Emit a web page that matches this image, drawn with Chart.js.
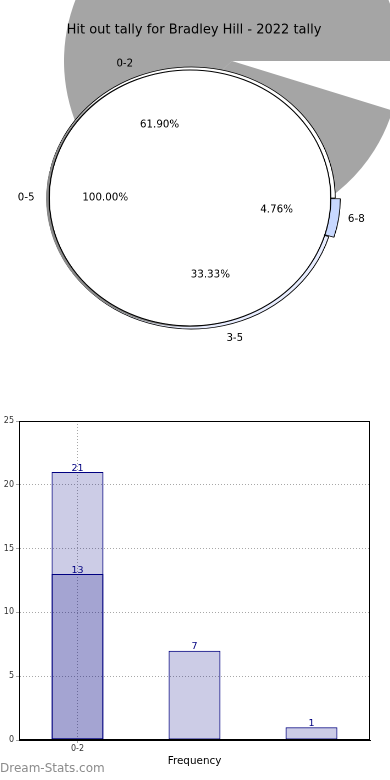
<!DOCTYPE html>
<html>
<head>
<meta charset="utf-8">
<script src="https://cdn.jsdelivr.net/npm/chart.js@4.4.1/dist/chart.umd.min.js"></script>
<style>
  html, body { margin: 0; padding: 0; background: #fff; width: 390px; height: 780px; overflow: hidden; }
  .layer { position: absolute; }
  #pieBack { left: 0; top: 0; }
  .pieWrap { left: 10px; top: 48px; width: 360px; height: 300px; transform: scaleX(1.1); transform-origin: 180px 150px; }
  #bars { left: 0; top: 400px; }
  #mark { position: absolute; left: 0; top: 761px; font: 12px "DejaVu Sans"; color: #8c8c8c; }
</style>
</head>
<body>
<canvas id="pieBack" class="layer" width="390" height="380"></canvas>
<div class="layer pieWrap"><canvas id="pieOuter" width="360" height="300"></canvas></div>
<div class="layer pieWrap"><canvas id="pieShadow" width="360" height="300"></canvas></div>
<div class="layer pieWrap"><canvas id="pieInner" width="360" height="300"></canvas></div>
<canvas id="bars" class="layer" width="390" height="380"></canvas>
<div id="mark">Dream-Stats.com</div>
<script>
const titleText = 'Hit out tally for Bradley Hill - 2022 tally'
const ranges = ['0-2', '3-5', '6-8']
const counts = [13, 7, 1]
const allRange = ['0-5']
const allCount = [21]
const barTotals = [21, 7, 1]
const barSub = [13, null, null]
const yTicks = [0, 5, 10, 15, 20, 25]
const xTitle = 'Frequency'

// pies go clockwise from east in Chart.js, matplotlib goes the other way
const pieNames = [...ranges].reverse()
const pieValues = [...counts].reverse()

const SX = 1.1 // horizontal stretch of the pie wrappers
const GREY = '#a5a5a5'
const BAR_FILL = 'rgba(0, 0, 128, 0.2)'

function drawText(ctx, text, x, y, align) {
  ctx.save()
  ctx.translate(x, y)
  ctx.scale(1 / SX, 1)
  ctx.textAlign = align
  ctx.fillText(text, 0, 0)
  ctx.restore()
}

function labelArcs(ctx, meta, names, values) {
  const total = values.reduce((a, b) => a + b, 0)
  meta.data.forEach((arc, i) => {
    const mid = (arc.startAngle + arc.endAngle) / 2
    const r = arc.outerRadius
    const c = Math.cos(mid), s = Math.sin(mid)
    drawText(ctx, names[i], arc.x + c * r * 1.1, arc.y + s * r * 1.1, c < 0 ? 'right' : 'left')
    drawText(ctx, (values[i] / total * 100).toFixed(2) + '%', arc.x + c * r * 0.6, arc.y + s * r * 0.6, 'center')
  })
}

const titlePlugin = {
  id: 'topTitle',
  afterDraw(chart) {
    const ctx = chart.ctx
    ctx.save()
    ctx.font = '13px "DejaVu Sans"'
    ctx.fillStyle = '#000'
    ctx.textAlign = 'center'
    ctx.textBaseline = 'middle'
    ctx.fillText(titleText, 194, 30)
    ctx.restore()
  },
}

const pieBase = {
  responsive: false,
  animation: false,
  devicePixelRatio: 2,
  events: [],
  plugins: { legend: { display: false }, tooltip: { enabled: false } },
}

// grey shadow pie behind everything
new Chart(document.getElementById('pieBack'), {
  type: 'pie',
  data: {
    labels: pieNames,
    datasets: [{
      data: pieValues,
      backgroundColor: pieNames.map(n => n === '6-8' ? 'rgba(0,0,0,0)' : GREY),
      borderWidth: 0,
      radius: 168,
      rotation: 90,
      clip: false,
    }],
  },
  options: { ...pieBase, layout: { padding: { left: 74, bottom: 258 } } },
  plugins: [titlePlugin],
})

const outerChart = new Chart(document.getElementById('pieOuter'), {
  type: 'pie',
  data: {
    labels: pieNames,
    datasets: [{
      data: pieValues,
      backgroundColor: ['#c8d8ff', '#e8edff', '#ffffff'],
      borderColor: '#000',
      borderWidth: 0.8,
      offset: [11, 0, 0],
      radius: 131,
      rotation: 90,
      clip: false,
    }],
  },
  options: { ...pieBase, layout: { padding: { left: 2 } } },
})

// shadow of the full 0-5 pie, shifted a little left
new Chart(document.getElementById('pieShadow'), {
  type: 'pie',
  data: {
    labels: allRange,
    datasets: [{
      data: allCount,
      backgroundColor: '#8a8a8a',
      borderWidth: 0,
      radius: 128,
      rotation: 90,
      clip: false,
    }],
  },
  options: { ...pieBase, layout: { padding: { right: 5.4, top: 2 } } },
})

// full 0-5 pie: thin black ring as outline + white disk
new Chart(document.getElementById('pieInner'), {
  type: 'pie',
  data: {
    labels: allRange,
    datasets: [
      { data: allCount, backgroundColor: '#000', borderWidth: 0, weight: 1, radius: 128.5, rotation: 90, clip: false },
      { data: allCount, backgroundColor: '#fff', borderWidth: 0, weight: 127, radius: 128.5, rotation: 90, clip: false },
    ],
  },
  options: { ...pieBase, radius: 128.5 },
  plugins: [{
    id: 'pieLabels',
    afterDatasetsDraw(chart) {
      const ctx = chart.ctx
      ctx.save()
      ctx.font = '10.3px "DejaVu Sans"'
      ctx.fillStyle = '#000'
      ctx.textBaseline = 'middle'
      labelArcs(ctx, chart.getDatasetMeta(0), allRange, allCount)
      labelArcs(ctx, outerChart.getDatasetMeta(0), pieNames, pieValues)
      ctx.restore()
    },
  }],
})

const barValues = {
  id: 'barValues',
  afterDatasetsDraw(chart) {
    const ctx = chart.ctx
    ctx.save()
    ctx.font = '9.5px "DejaVu Sans"'
    ctx.fillStyle = '#000080'
    ctx.textAlign = 'center'
    ctx.textBaseline = 'alphabetic'
    chart.data.datasets.forEach((ds, di) => {
      chart.getDatasetMeta(di).data.forEach((bar, i) => {
        if (ds.data[i] == null) return
        ctx.fillText(String(ds.data[i]), bar.x, bar.y - 1.5)
      })
    })
    ctx.restore()
  },
}

const frame = {
  id: 'frame',
  afterDraw(chart) {
    const { left, top, right, bottom } = chart.chartArea
    const ctx = chart.ctx
    ctx.save()
    ctx.strokeStyle = '#000'
    ctx.lineWidth = 1
    ctx.strokeRect(Math.round(left) + 0.5, Math.round(top) + 0.5, Math.round(right - left) - 1, Math.round(bottom - top) - 1)
    ctx.restore()
  },
}

new Chart(document.getElementById('bars'), {
  type: 'bar',
  data: {
    labels: ranges,
    datasets: [
      { data: barSub, backgroundColor: BAR_FILL, borderColor: '#000080', borderWidth: 1, order: 0 },
      { data: barTotals, backgroundColor: BAR_FILL, borderColor: '#000080', borderWidth: 1, order: 1 },
    ],
  },
  options: {
    responsive: false,
    animation: false,
    events: [],
    layout: { padding: { top: 21, right: 20 } },
    datasets: { bar: { grouped: false, barPercentage: 0.444, categoryPercentage: 1, borderSkipped: false } },
    scales: {
      x: {
        offset: true,
        grid: {
          offset: false,
          color: c => c.index === 0 ? '#a8a8a8' : 'rgba(0,0,0,0)',
          tickLength: 3,
        },
        border: { color: '#000', dash: [1, 2] },
        ticks: {
          callback: (v, i) => i === 0 ? ranges[i] : '',
          font: { size: 8, family: 'DejaVu Sans' },
          color: '#333',
          padding: 1,
          maxRotation: 0,
        },
        title: {
          display: true,
          text: xTitle,
          font: { size: 10.4, family: 'DejaVu Sans' },
          color: '#000',
          padding: { top: 0, bottom: 12 },
        },
        afterFit: s => { s.height = 40 },
      },
      y: {
        min: 0,
        max: 25,
        afterBuildTicks: s => { s.ticks = yTicks.map(v => ({ value: v })) },
        grid: { color: '#a8a8a8', tickLength: 3 },
        border: { color: '#000', dash: [1, 2] },
        ticks: { font: { size: 8, family: 'DejaVu Sans' }, color: '#333', padding: 2 },
        afterFit: s => { s.width = 19 },
      },
    },
    plugins: { legend: { display: false }, tooltip: { enabled: false } },
  },
  plugins: [barValues, frame],
})
</script>
</body>
</html>
